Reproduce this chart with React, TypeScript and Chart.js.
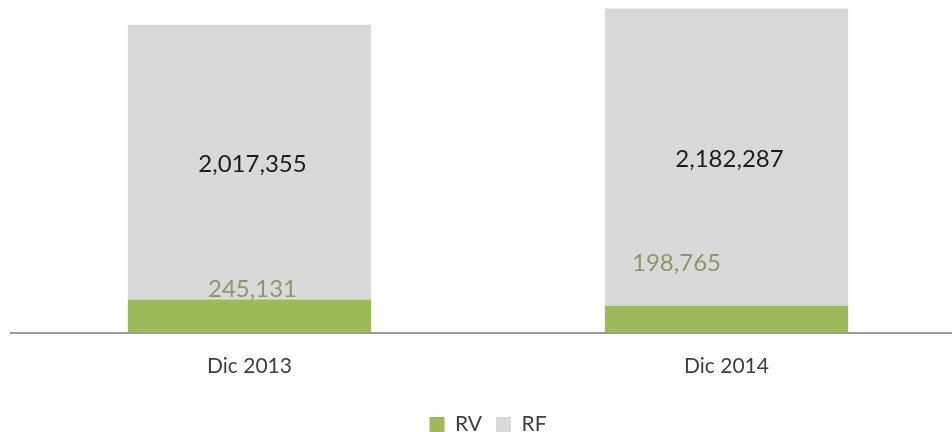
import React, { useEffect, useRef } from "react";
import { Chart, registerables } from "chart.js";

Chart.register(...registerables);

const categories = ["Dic 2013", "Dic 2014"];
const rvValues = [245131, 198765];
const rfValues = [2017355, 2182287];
const seriesNames = ["RV", "RF"];
const yMax = 2400000;

const GREEN = "#9bbb59";
const GRAY = "#d9d9d9";
const FONT = "Lato, 'Open Sans', sans-serif";

// label placement tweaks (pixel offsets relative to computed bar geometry)
const labelPlacement = {
  rv: { dx: [3, -50], above: [10, 42] },
};

const fmt = (v: number) => v.toLocaleString("en-US");

const labelPlugin = {
  id: "segmentLabels",
  afterDatasetsDraw(chart: any) {
    const ctx = chart.ctx;
    ctx.save();
    ctx.font = `24px ${FONT}`;
    ctx.textAlign = "center";
    ctx.textBaseline = "middle";
    chart.data.datasets.forEach((ds: any, di: number) => {
      const meta = chart.getDatasetMeta(di);
      meta.data.forEach((el: any, i: number) => {
        const v = ds.data[i] as number;
        const top = Math.min(el.y, el.base);
        const bottom = Math.max(el.y, el.base);
        if (di === 0) {
          ctx.fillStyle = "#8a9a62";
          ctx.fillText(fmt(v), el.x + labelPlacement.rv.dx[i], top - labelPlacement.rv.above[i]);
        } else {
          ctx.fillStyle = "#1c1c1c";
          ctx.fillText(fmt(v), el.x + 3, (top + bottom) / 2 + 2);
        }
      });
    });
    ctx.restore();
  },
};

export default function App() {
  const ref = useRef<HTMLCanvasElement | null>(null);
  useEffect(() => {
    if (!ref.current) return;
    const chart = new Chart(ref.current, {
      type: "bar",
      data: {
        labels: categories,
        datasets: [
          {
            label: seriesNames[0],
            data: rvValues,
            backgroundColor: GREEN,
            categoryPercentage: 1,
            barPercentage: 0.51,
          },
          {
            label: seriesNames[1],
            data: rfValues,
            backgroundColor: GRAY,
            categoryPercentage: 1,
            barPercentage: 0.51,
          },
        ],
      },
      options: {
        responsive: false,
        animation: false,
        layout: { padding: { top: 6, left: 11, right: 5, bottom: -13 } },
        scales: {
          x: {
            stacked: true,
            grid: { display: false, drawTicks: false },
            border: { display: true, color: "#9a9a9a", width: 2 },
            ticks: { color: "#404040", font: { family: FONT, size: 21 }, padding: 21 },
          },
          y: {
            stacked: true,
            display: false,
            min: 0,
            max: yMax,
          },
        },
        plugins: {
          legend: {
            position: "bottom",
            labels: {
              color: "#404040",
              font: { family: FONT, size: 21 },
              boxWidth: 15,
              boxHeight: 15,
              padding: 14,
            },
          },
          tooltip: { enabled: false },
        },
      },
      plugins: [labelPlugin],
    });
    return () => chart.destroy();
  }, []);
  return (
    <div style={{ position: "absolute", left: 0, top: 0, width: 952, height: 432, overflow: "hidden", background: "#fff" }}>
      <canvas ref={ref} width={970} height={432} style={{ display: "block" }} />
    </div>
  );
}
